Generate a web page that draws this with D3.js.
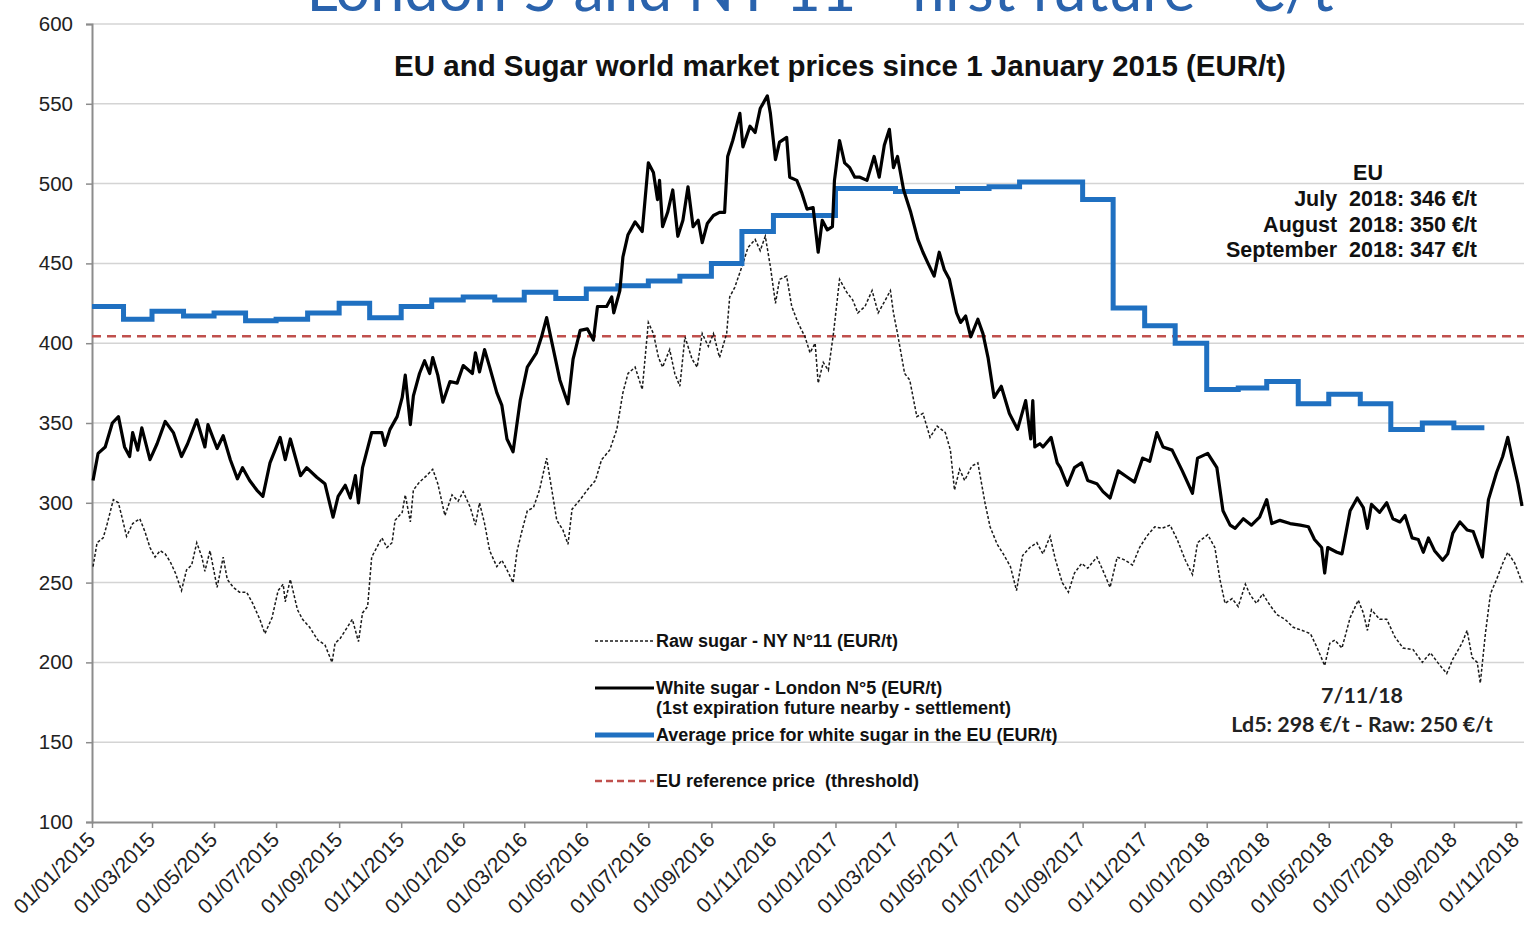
<!DOCTYPE html>
<html>
<head>
<meta charset="utf-8">
<script src="https://cdn.jsdelivr.net/npm/d3@7"></script>
<style>
  html, body { margin: 0; padding: 0; background: #fff; }
  svg { display: block; font-family: "Liberation Sans", Arial, sans-serif; }
</style>
</head>
<body>
<svg id="chart" width="1524" height="927"></svg>
<script>
// EU monthly average price for white sugar (EUR/t), Jan 2015 .. Sep 2018
const euMonths = [
  "2015-01", "2015-02", "2015-03", "2015-04", "2015-05", "2015-06",
  "2015-07", "2015-08", "2015-09", "2015-10", "2015-11", "2015-12",
  "2016-01", "2016-02", "2016-03", "2016-04", "2016-05", "2016-06",
  "2016-07", "2016-08", "2016-09", "2016-10", "2016-11", "2016-12",
  "2017-01", "2017-02", "2017-03", "2017-04", "2017-05", "2017-06",
  "2017-07", "2017-08", "2017-09", "2017-10", "2017-11", "2017-12",
  "2018-01", "2018-02", "2018-03", "2018-04", "2018-05", "2018-06",
  "2018-07", "2018-08", "2018-09"
];
const euPrice = [
  423, 415, 420, 417, 419, 414, 415, 419, 425, 416, 423, 427,
  429, 427, 432, 428, 434, 436, 439, 442, 450, 470, 480, 480,
  497, 497, 495, 495, 497, 498, 501, 501, 490, 422, 411, 400,
  371, 372, 376, 362, 368, 362, 346, 350, 347
];

// EU reference price (threshold)
const refPrice = 404.4;

// White sugar - London N°5 (EUR/t)
const whiteSugar = [
  ["2015-01-02", 314], ["2015-01-07", 331], ["2015-01-14", 335], ["2015-01-21", 350],
  ["2015-01-27", 354], ["2015-02-02", 335], ["2015-02-07", 329], ["2015-02-10", 344],
  ["2015-02-15", 333], ["2015-02-19", 347], ["2015-02-27", 327], ["2015-03-06", 337],
  ["2015-03-14", 351], ["2015-03-22", 344], ["2015-03-30", 329], ["2015-04-05", 337],
  ["2015-04-14", 352], ["2015-04-22", 335], ["2015-04-25", 349], ["2015-05-04", 334],
  ["2015-05-10", 342], ["2015-05-17", 327], ["2015-05-24", 315], ["2015-05-29", 322],
  ["2015-06-05", 314], ["2015-06-12", 308], ["2015-06-18", 304], ["2015-06-25", 325],
  ["2015-07-05", 341], ["2015-07-10", 327], ["2015-07-15", 340], ["2015-07-25", 317],
  ["2015-07-31", 322], ["2015-08-10", 316], ["2015-08-18", 312], ["2015-08-26", 291],
  ["2015-08-31", 304], ["2015-09-07", 311], ["2015-09-12", 303], ["2015-09-17", 317],
  ["2015-09-20", 300], ["2015-09-24", 322], ["2015-10-03", 344], ["2015-10-13", 344],
  ["2015-10-16", 336], ["2015-10-21", 346], ["2015-10-28", 354], ["2015-11-02", 366],
  ["2015-11-05", 380], ["2015-11-10", 349], ["2015-11-13", 367], ["2015-11-19", 381],
  ["2015-11-24", 389], ["2015-11-29", 381], ["2015-12-02", 391], ["2015-12-07", 380],
  ["2015-12-12", 363], ["2015-12-19", 376], ["2015-12-26", 375], ["2016-01-01", 386],
  ["2016-01-10", 381], ["2016-01-13", 394], ["2016-01-17", 382], ["2016-01-22", 396],
  ["2016-01-27", 385], ["2016-02-03", 369], ["2016-02-08", 361], ["2016-02-13", 340],
  ["2016-02-19", 332], ["2016-02-26", 364], ["2016-03-04", 385], ["2016-03-13", 394],
  ["2016-03-18", 404], ["2016-03-23", 416], ["2016-03-29", 398], ["2016-04-05", 377],
  ["2016-04-13", 362], ["2016-04-18", 390], ["2016-04-25", 408], ["2016-05-02", 409],
  ["2016-05-08", 402], ["2016-05-12", 423], ["2016-05-21", 423], ["2016-05-26", 429],
  ["2016-05-28", 419], ["2016-06-03", 433], ["2016-06-06", 454], ["2016-06-11", 468],
  ["2016-06-18", 476], ["2016-06-25", 470], ["2016-07-01", 513], ["2016-07-06", 507],
  ["2016-07-10", 490], ["2016-07-12", 502], ["2016-07-15", 473], ["2016-07-20", 482],
  ["2016-07-25", 496], ["2016-07-30", 467], ["2016-08-04", 477], ["2016-08-09", 498],
  ["2016-08-14", 473], ["2016-08-19", 477], ["2016-08-23", 463], ["2016-08-28", 475],
  ["2016-09-03", 480], ["2016-09-09", 482], ["2016-09-14", 482], ["2016-09-17", 517],
  ["2016-09-22", 527], ["2016-09-29", 544], ["2016-10-02", 523], ["2016-10-09", 536],
  ["2016-10-14", 532], ["2016-10-19", 547], ["2016-10-26", 555], ["2016-10-29", 544],
  ["2016-11-03", 515], ["2016-11-07", 526], ["2016-11-14", 529], ["2016-11-17", 504],
  ["2016-11-24", 502], ["2016-11-29", 494], ["2016-12-04", 484], ["2016-12-10", 485],
  ["2016-12-15", 457], ["2016-12-19", 477], ["2016-12-24", 471], ["2016-12-29", 473],
  ["2016-12-31", 502], ["2017-01-05", 527], ["2017-01-10", 513], ["2017-01-15", 510],
  ["2017-01-20", 504], ["2017-01-25", 504], ["2017-02-01", 502], ["2017-02-08", 517],
  ["2017-02-13", 504], ["2017-02-18", 524], ["2017-02-23", 534], ["2017-02-27", 510],
  ["2017-03-03", 517], ["2017-03-09", 496], ["2017-03-16", 482], ["2017-03-23", 465],
  ["2017-03-28", 457], ["2017-04-02", 450], ["2017-04-08", 442], ["2017-04-13", 457],
  ["2017-04-18", 446], ["2017-04-23", 440], ["2017-04-30", 419], ["2017-05-04", 413],
  ["2017-05-09", 417], ["2017-05-14", 404], ["2017-05-21", 415], ["2017-05-26", 406],
  ["2017-05-31", 391], ["2017-06-06", 366], ["2017-06-13", 373], ["2017-06-21", 356],
  ["2017-06-29", 346], ["2017-07-07", 364], ["2017-07-12", 340], ["2017-07-14", 364],
  ["2017-07-16", 335], ["2017-07-21", 337], ["2017-07-24", 335], ["2017-08-01", 341],
  ["2017-08-07", 325], ["2017-08-10", 322], ["2017-08-17", 311], ["2017-08-24", 322],
  ["2017-08-31", 325], ["2017-09-06", 314], ["2017-09-15", 312], ["2017-09-21", 307],
  ["2017-09-28", 303], ["2017-10-06", 320], ["2017-10-15", 316], ["2017-10-22", 313],
  ["2017-10-30", 328], ["2017-11-06", 326], ["2017-11-13", 344], ["2017-11-19", 335],
  ["2017-11-28", 333], ["2017-12-08", 320], ["2017-12-18", 306], ["2017-12-23", 328],
  ["2018-01-02", 331], ["2018-01-11", 322], ["2018-01-17", 295], ["2018-01-24", 286],
  ["2018-01-29", 284], ["2018-02-06", 290], ["2018-02-14", 286], ["2018-02-22", 291],
  ["2018-03-01", 302], ["2018-03-06", 287], ["2018-03-14", 289], ["2018-03-24", 287],
  ["2018-04-03", 286], ["2018-04-11", 285], ["2018-04-17", 277], ["2018-04-24", 272],
  ["2018-04-27", 256], ["2018-04-30", 272], ["2018-05-09", 269], ["2018-05-14", 268],
  ["2018-05-22", 295], ["2018-05-29", 303], ["2018-06-04", 297], ["2018-06-08", 284],
  ["2018-06-12", 299], ["2018-06-20", 294], ["2018-06-27", 300], ["2018-07-03", 290],
  ["2018-07-10", 288], ["2018-07-15", 292], ["2018-07-22", 278], ["2018-07-28", 277],
  ["2018-08-02", 269], ["2018-08-07", 278], ["2018-08-13", 270], ["2018-08-21", 264],
  ["2018-08-26", 268], ["2018-08-31", 281], ["2018-09-07", 288], ["2018-09-14", 283],
  ["2018-09-20", 282], ["2018-09-29", 266], ["2018-10-05", 302], ["2018-10-13", 319],
  ["2018-10-19", 329], ["2018-10-24", 341], ["2018-10-28", 329], ["2018-11-03", 312],
  ["2018-11-07", 298]
];

// Raw sugar - NY N°11 (EUR/t)
const rawSugar = [
  ["2015-01-02", 260], ["2015-01-06", 275], ["2015-01-12", 278], ["2015-01-16", 287],
  ["2015-01-22", 302], ["2015-01-27", 300], ["2015-02-04", 279], ["2015-02-10", 287],
  ["2015-02-17", 290], ["2015-02-22", 282], ["2015-02-27", 272], ["2015-03-04", 266],
  ["2015-03-09", 270], ["2015-03-14", 268], ["2015-03-19", 263], ["2015-03-24", 256],
  ["2015-03-30", 245], ["2015-04-04", 258], ["2015-04-09", 261], ["2015-04-14", 275],
  ["2015-04-19", 266], ["2015-04-22", 257], ["2015-04-27", 270], ["2015-05-04", 247],
  ["2015-05-10", 266], ["2015-05-14", 252], ["2015-05-20", 247], ["2015-05-26", 244],
  ["2015-06-02", 244], ["2015-06-08", 237], ["2015-06-15", 227], ["2015-06-20", 218],
  ["2015-06-27", 228], ["2015-07-03", 245], ["2015-07-08", 249], ["2015-07-10", 238],
  ["2015-07-15", 252], ["2015-07-22", 233], ["2015-07-27", 227], ["2015-08-03", 222],
  ["2015-08-11", 214], ["2015-08-18", 211], ["2015-08-25", 200], ["2015-08-28", 212],
  ["2015-09-02", 215], ["2015-09-09", 222], ["2015-09-14", 227], ["2015-09-17", 220],
  ["2015-09-20", 213], ["2015-09-24", 231], ["2015-09-29", 235], ["2015-10-03", 266],
  ["2015-10-08", 272], ["2015-10-13", 278], ["2015-10-18", 272], ["2015-10-23", 275],
  ["2015-10-26", 289], ["2015-11-02", 294], ["2015-11-05", 305], ["2015-11-10", 288],
  ["2015-11-13", 308], ["2015-11-19", 313], ["2015-11-26", 317], ["2015-12-02", 321],
  ["2015-12-07", 312], ["2015-12-14", 292], ["2015-12-21", 305], ["2015-12-27", 301],
  ["2016-01-01", 307], ["2016-01-08", 297], ["2016-01-13", 286], ["2016-01-17", 300],
  ["2016-01-22", 287], ["2016-01-27", 270], ["2016-02-03", 260], ["2016-02-08", 264],
  ["2016-02-13", 258], ["2016-02-19", 250], ["2016-02-23", 270], ["2016-02-28", 283],
  ["2016-03-04", 295], ["2016-03-10", 297], ["2016-03-16", 308], ["2016-03-23", 328],
  ["2016-04-02", 289], ["2016-04-08", 283], ["2016-04-13", 274], ["2016-04-17", 296],
  ["2016-04-25", 302], ["2016-05-02", 308], ["2016-05-10", 314], ["2016-05-16", 327],
  ["2016-05-24", 333], ["2016-05-31", 346], ["2016-06-06", 369], ["2016-06-11", 381],
  ["2016-06-18", 385], ["2016-06-25", 371], ["2016-07-01", 413], ["2016-07-06", 406],
  ["2016-07-11", 391], ["2016-07-15", 385], ["2016-07-22", 396], ["2016-07-27", 381],
  ["2016-08-01", 373], ["2016-08-06", 404], ["2016-08-13", 390], ["2016-08-18", 385],
  ["2016-08-23", 406], ["2016-08-29", 398], ["2016-09-03", 406], ["2016-09-09", 391],
  ["2016-09-16", 406], ["2016-09-19", 429], ["2016-09-24", 435], ["2016-10-01", 448],
  ["2016-10-07", 460], ["2016-10-14", 465], ["2016-10-19", 458], ["2016-10-24", 467],
  ["2016-10-29", 448], ["2016-11-03", 425], ["2016-11-07", 440], ["2016-11-14", 442],
  ["2016-11-19", 423], ["2016-11-25", 413], ["2016-12-02", 404], ["2016-12-07", 394],
  ["2016-12-12", 400], ["2016-12-15", 375], ["2016-12-20", 388], ["2016-12-25", 383],
  ["2016-12-30", 406], ["2017-01-05", 440], ["2017-01-12", 432], ["2017-01-18", 427],
  ["2017-01-23", 419], ["2017-01-30", 423], ["2017-02-06", 433], ["2017-02-12", 419],
  ["2017-02-19", 427], ["2017-02-24", 433], ["2017-02-27", 419], ["2017-03-03", 406],
  ["2017-03-10", 381], ["2017-03-15", 377], ["2017-03-22", 354], ["2017-03-28", 356],
  ["2017-04-04", 341], ["2017-04-11", 348], ["2017-04-19", 344], ["2017-04-24", 333],
  ["2017-04-28", 308], ["2017-05-03", 321], ["2017-05-08", 314], ["2017-05-15", 323],
  ["2017-05-21", 325], ["2017-05-28", 300], ["2017-06-02", 285], ["2017-06-09", 274],
  ["2017-06-15", 268], ["2017-06-22", 260], ["2017-06-28", 245], ["2017-07-04", 267],
  ["2017-07-11", 272], ["2017-07-18", 275], ["2017-07-24", 268], ["2017-07-31", 279],
  ["2017-08-05", 265], ["2017-08-12", 250], ["2017-08-18", 244], ["2017-08-24", 256],
  ["2017-08-31", 262], ["2017-09-06", 259], ["2017-09-15", 266], ["2017-09-20", 259],
  ["2017-09-28", 247], ["2017-10-05", 266], ["2017-10-13", 264], ["2017-10-20", 261],
  ["2017-10-27", 272], ["2017-11-03", 279], ["2017-11-11", 285], ["2017-11-18", 284],
  ["2017-11-26", 286], ["2017-12-03", 277], ["2017-12-11", 264], ["2017-12-18", 255],
  ["2017-12-23", 275], ["2018-01-02", 280], ["2018-01-09", 272], ["2018-01-14", 252],
  ["2018-01-19", 237], ["2018-01-26", 240], ["2018-02-01", 235], ["2018-02-08", 249],
  ["2018-02-13", 242], ["2018-02-19", 237], ["2018-02-25", 243], ["2018-03-04", 236],
  ["2018-03-11", 230], ["2018-03-19", 227], ["2018-03-27", 222], ["2018-04-05", 220],
  ["2018-04-13", 218], ["2018-04-19", 210], ["2018-04-27", 198], ["2018-05-02", 212],
  ["2018-05-07", 214], ["2018-05-14", 209], ["2018-05-22", 228], ["2018-05-30", 239],
  ["2018-06-04", 231], ["2018-06-08", 220], ["2018-06-12", 233], ["2018-06-20", 227],
  ["2018-06-27", 227], ["2018-07-05", 216], ["2018-07-13", 209], ["2018-07-23", 208],
  ["2018-08-01", 200], ["2018-08-09", 206], ["2018-08-16", 200], ["2018-08-25", 193],
  ["2018-08-31", 202], ["2018-09-09", 212], ["2018-09-14", 220], ["2018-09-19", 203],
  ["2018-09-24", 200], ["2018-09-27", 187], ["2018-10-02", 218], ["2018-10-07", 243],
  ["2018-10-13", 252], ["2018-10-19", 262], ["2018-10-24", 269], ["2018-10-31", 262],
  ["2018-11-07", 250]
];

const yTicks = [100, 150, 200, 250, 300, 350, 400, 450, 500, 550, 600];
const chartTitle = "EU and Sugar world market prices since 1 January 2015 (EUR/t)";
const slideTitle = "London 5 and NY 11 - first future - €/t";
const euNotes = ["July  2018: 346 €/t", "August  2018: 350 €/t", "September  2018: 347 €/t"];
const lastNotes = ["7/11/18", "Ld5: 298 €/t - Raw: 250 €/t"];

const parseDay = d3.utcParse("%Y-%m-%d");
const parseMonth = d3.utcParse("%Y-%m");

const svg = d3.select("#chart");
const margin = { top: 24, right: 2, bottom: 105, left: 92 };
const width = 1524, height = 927;

const x = d3
  .scaleUtc()
  .domain([parseDay("2015-01-01"), parseDay("2018-11-07")])
  .range([margin.left, 1522]);
const y = d3
  .scaleLinear()
  .domain([100, 600])
  .range([height - margin.bottom, margin.top]);

// slide title, cut off at the top of the picture as in the source slide
svg.append("text")
  .attr("x", 820)
  .attr("y", 11)
  .attr("text-anchor", "middle")
  .style("font-family", "Lato, 'Open Sans', sans-serif")
  .style("font-size", "61px")
  .style("fill", "#2a63ad")
  .text(slideTitle);

// grid lines
svg.append("g")
  .selectAll("line")
  .data(yTicks.filter((t) => t > 100))
  .enter()
  .append("line")
  .attr("x1", margin.left)
  .attr("x2", width)
  .attr("y1", (d) => y(d))
  .attr("y2", (d) => y(d))
  .attr("stroke", "#d4d4d4")
  .attr("stroke-width", 1.5);

// y axis
const yAxis = svg.append("g")
  .attr("transform", `translate(${margin.left},0)`)
  .call(d3.axisLeft(y).tickValues(yTicks).tickSize(6).tickPadding(13));
yAxis.select(".domain").attr("stroke", "#8c8c8c").attr("stroke-width", 2);
yAxis.selectAll(".tick line").attr("stroke", "#8c8c8c").attr("stroke-width", 1.5);
yAxis.selectAll(".tick text")
  .style("font-size", "20.5px")
  .style("font-family", "'Liberation Sans', Arial, sans-serif")
  .attr("fill", "#222");

// x axis
const xAxis = svg.append("g")
  .attr("transform", `translate(0,${y(100)})`)
  .call(
    d3.axisBottom(x)
      .ticks(d3.utcMonth.every(2))
      .tickFormat(d3.utcFormat("%d/%m/%Y"))
      .tickSize(6)
      .tickSizeOuter(0)
  );
xAxis.select(".domain").attr("stroke", "#8c8c8c").attr("stroke-width", 2);
xAxis.selectAll(".tick line").attr("stroke", "#8c8c8c").attr("stroke-width", 1.5);
xAxis.selectAll(".tick text")
  .style("font-size", "21px")
  .style("font-family", "'Liberation Sans', Arial, sans-serif")
  .attr("fill", "#222")
  .attr("text-anchor", "end")
  .attr("dy", null)
  .attr("y", null)
  .attr("transform", "translate(4,19) rotate(-45)");

// EU reference price
svg.append("line")
  .attr("x1", x.range()[0])
  .attr("x2", width)
  .attr("y1", y(refPrice))
  .attr("y2", y(refPrice))
  .attr("stroke", "#c0504d")
  .attr("stroke-width", 2.5)
  .attr("stroke-dasharray", "9,6");

const line = d3
  .line()
  .x((d) => x(d[0]))
  .y((d) => y(d[1]));

// raw sugar
svg.append("path")
  .datum(rawSugar.map((d) => [parseDay(d[0]), d[1]]))
  .attr("fill", "none")
  .attr("stroke", "#1a1a1a")
  .attr("stroke-width", 1.5)
  .attr("stroke-dasharray", "3,2")
  .attr("d", line);

// EU average price, monthly steps
const euSteps = euMonths.map((m, i) => [parseMonth(m), euPrice[i]]);
euSteps.push([d3.utcMonth.offset(euSteps[euSteps.length - 1][0], 1), euPrice[euPrice.length - 1]]);
svg.append("path")
  .datum(euSteps)
  .attr("fill", "none")
  .attr("stroke", "#1f70c1")
  .attr("stroke-width", 5)
  .attr("d", line.curve(d3.curveStepAfter));
line.curve(d3.curveLinear);

// white sugar
svg.append("path")
  .datum(whiteSugar.map((d) => [parseDay(d[0]), d[1]]))
  .attr("fill", "none")
  .attr("stroke", "#000")
  .attr("stroke-width", 3.2)
  .attr("stroke-linejoin", "round")
  .attr("d", line);

// chart title
svg.append("text")
  .attr("x", 840)
  .attr("y", 76)
  .attr("text-anchor", "middle")
  .style("font-size", "29.5px")
  .style("font-weight", "bold")
  .attr("fill", "#111")
  .text(chartTitle);

// legend
const legend = [
  { label: ["Raw sugar - NY N°11 (EUR/t)"], y: 641, color: "#1a1a1a", w: 1.5, dash: "3,2" },
  { label: ["White sugar - London N°5 (EUR/t)", "(1st expiration future nearby - settlement)"], y: 688, color: "#000", w: 3.2, dash: null },
  { label: ["Average price for white sugar in the EU (EUR/t)"], y: 735, color: "#1f70c1", w: 5, dash: null },
  { label: ["EU reference price  (threshold)"], y: 781, color: "#c0504d", w: 2.5, dash: "7,4" }
];
const lg = svg.append("g");
legend.forEach((item) => {
  lg.append("line")
    .attr("x1", 595)
    .attr("x2", 654)
    .attr("y1", item.y)
    .attr("y2", item.y)
    .attr("stroke", item.color)
    .attr("stroke-width", item.w)
    .attr("stroke-dasharray", item.dash);
  item.label.forEach((t, i) => {
    lg.append("text")
      .attr("x", 656)
      .attr("y", item.y + 6 + i * 20)
      .style("font-size", "18px")
      .style("font-weight", "bold")
      .style("white-space", "pre")
      .attr("fill", "#111")
      .text(t);
  });
});

// EU annotation
svg.append("text")
  .attr("x", 1368)
  .attr("y", 180)
  .attr("text-anchor", "middle")
  .style("font-size", "21.5px")
  .style("font-weight", "bold")
  .attr("fill", "#111")
  .text("EU");
euNotes.forEach((t, i) => {
  svg.append("text")
    .attr("x", 1477)
    .attr("y", 206 + i * 25.5)
    .attr("text-anchor", "end")
    .style("font-size", "21.5px")
    .style("font-weight", "bold")
    .style("white-space", "pre")
    .attr("fill", "#111")
    .text(t);
});

// last quote annotation
lastNotes.forEach((t, i) => {
  svg.append("text")
    .attr("x", 1362)
    .attr("y", 703 + i * 29)
    .attr("text-anchor", "middle")
    .style("font-family", "Lato, 'Open Sans', sans-serif")
    .style("font-size", "21.4px")
    .style("font-weight", "bold")
    .attr("fill", "#222")
    .text(t);
});
</script>
</body>
</html>
